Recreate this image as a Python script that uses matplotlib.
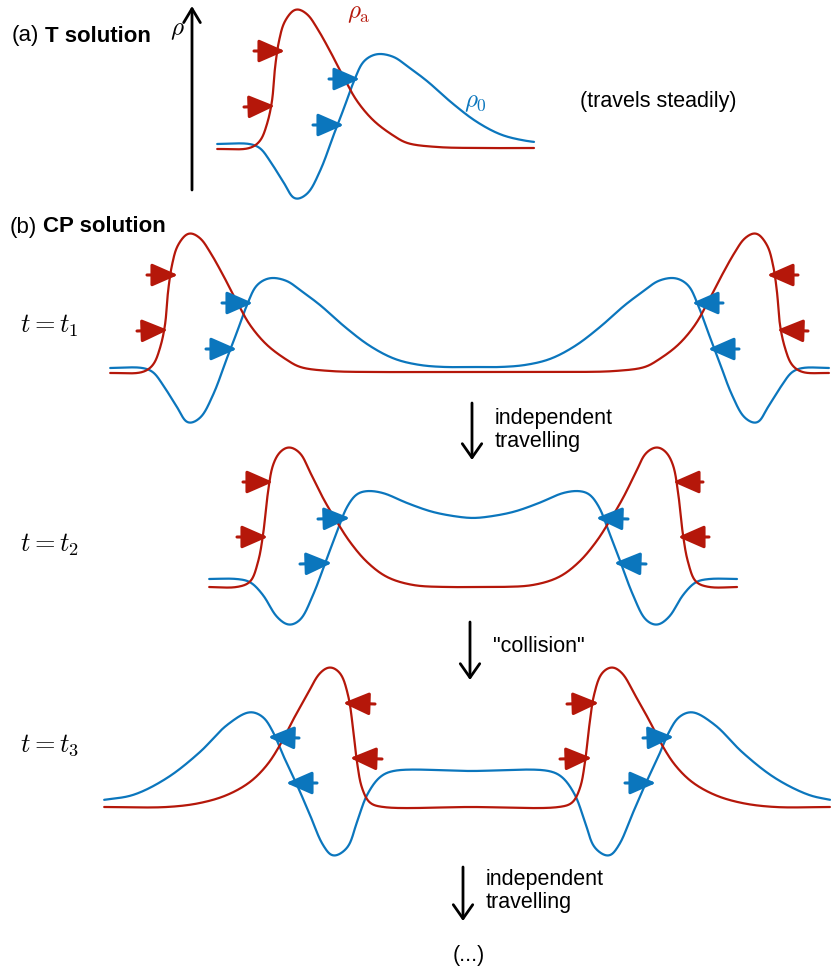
import numpy as np
import matplotlib
matplotlib.use("Agg")
import matplotlib.pyplot as plt

plt.rcParams['font.family'] = ['Liberation Sans', 'DejaVu Sans']
plt.rcParams['mathtext.fontset'] = 'cm'

RED = '#B5170A'
BLUE = '#0B76BD'

# ---- curve points (pixel units, y downwards) ----
# (a) T solution
t_red = [(216, 149), (250, 148), (260, 141), (267, 124), (272, 101), (275, 68), (279, 41),
         (285, 21), (296, 9), (307, 14), (317, 28), (330, 51), (344, 78), (357, 101),
         (374, 121), (394, 136), (407, 143), (437, 147), (480, 148), (535, 148)]
t_blue = [(216, 144), (250, 144), (260, 148), (270, 161), (284, 183), (295, 199), (307, 194),
          (320, 171), (334, 134), (344, 108), (354, 81), (364, 61), (377, 54), (394, 57),
          (407, 66), (427, 81), (452, 103), (477, 122), (502, 135), (527, 141), (535, 142)]

# (b) CP solution, t = t1
t1_red = [(109, 373), (143, 372), (153, 365), (160, 348), (165, 325), (168, 292), (172, 265),
          (178, 245), (189, 233), (200, 238), (210, 252), (223, 275), (237, 302), (250, 325),
          (267, 345), (287, 360), (300, 367), (330, 371), (380, 372), (430, 372), (472, 372),
          (515, 372), (565, 372), (615, 371), (645, 367), (658, 360), (678, 345), (695, 325),
          (708, 302), (722, 275), (735, 252), (745, 238), (756, 233), (767, 245), (773, 265),
          (777, 292), (780, 325), (785, 348), (792, 365), (802, 372), (830, 373)]
t1_blue = [(109, 368), (143, 368), (153, 372), (163, 385), (177, 407), (188, 423), (200, 418),
           (213, 395), (227, 358), (237, 332), (247, 305), (257, 285), (270, 278), (287, 281),
           (300, 290), (320, 305), (345, 327), (370, 346), (395, 359), (420, 365), (445, 367),
           (472, 367), (500, 367), (525, 365), (550, 359), (575, 346), (600, 327), (625, 305),
           (645, 290), (658, 281), (675, 278), (688, 285), (698, 305), (708, 332), (718, 358),
           (732, 395), (745, 418), (757, 423), (768, 407), (782, 385), (792, 372), (802, 368),
           (830, 368)]

# t = t2
t2_red = [(208, 587), (237, 587), (250, 582), (258, 562), (263, 535), (268, 492), (273, 465),
          (280, 452), (289, 447), (300, 453), (310, 472), (323, 498), (337, 522), (350, 542),
          (367, 562), (387, 577), (413, 585), (447, 587), (473, 587), (499, 587), (533, 585),
          (559, 577), (579, 562), (596, 542), (609, 522), (623, 498), (636, 472), (646, 453),
          (657, 447), (666, 452), (673, 465), (678, 492), (683, 535), (688, 562), (696, 582),
          (709, 587), (738, 587)]
t2_blue = [(208, 579), (237, 579), (250, 582), (263, 595), (277, 617), (289, 625), (300, 620),
           (313, 595), (327, 558), (337, 532), (347, 507), (357, 494), (367, 491), (383, 493),
           (407, 503), (433, 512), (460, 517), (473, 518), (486, 517), (513, 512), (539, 503),
           (563, 493), (579, 491), (589, 494), (599, 507), (609, 532), (619, 558), (633, 595),
           (646, 620), (657, 625), (669, 617), (683, 595), (696, 582), (709, 579), (738, 579)]

# t = t3
t3_red = [(103, 807), (167, 807), (200, 803), (227, 795), (250, 782), (267, 765), (280, 745),
          (293, 720), (307, 695), (320, 673), (330, 667), (340, 673), (348, 695), (353, 728),
          (357, 762), (362, 788), (370, 803), (383, 807), (471, 807), (559, 807), (572, 803),
          (580, 788), (585, 762), (589, 728), (594, 695), (602, 673), (612, 667), (622, 673),
          (635, 695), (649, 720), (662, 745), (675, 765), (692, 782), (715, 795), (742, 803),
          (775, 807), (831, 807)]
t3_blue = [(103, 800), (133, 795), (167, 778), (200, 752), (227, 725), (250, 712), (263, 717),
           (273, 732), (283, 755), (297, 785), (310, 815), (323, 845), (333, 856), (347, 848),
           (357, 822), (367, 795), (380, 777), (393, 771), (471, 771), (549, 771), (562, 777),
           (575, 795), (585, 822), (595, 848), (609, 856), (619, 845), (632, 815), (645, 785),
           (659, 755), (669, 732), (679, 717), (692, 712), (715, 725), (742, 752), (775, 778),
           (809, 795), (831, 800)]

# small velocity arrows: (tail, tip, colour)
arrows = [
    ((254, 51), (285, 51), RED), ((244, 107), (275, 106), RED),
    ((329, 79), (360, 79), BLUE), ((313, 125), (344, 125), BLUE),
    ((147, 275), (178, 275), RED), ((137, 331), (168, 330), RED),
    ((222, 303), (253, 303), BLUE), ((206, 349), (237, 349), BLUE),
    ((798, 275), (767, 275), RED), ((808, 331), (777, 330), RED),
    ((723, 303), (692, 303), BLUE), ((739, 349), (708, 349), BLUE),
    ((243, 482), (273, 482), RED), ((237, 537), (268, 537), RED),
    ((318, 519), (350, 518), BLUE), ((300, 564), (332, 563), BLUE),
    ((703, 482), (673, 482), RED), ((709, 537), (678, 537), RED),
    ((628, 519), (596, 518), BLUE), ((646, 564), (614, 563), BLUE),
    ((375, 704), (343, 703), RED), ((382, 759), (350, 758), RED),
    ((299, 738), (268, 737), BLUE), ((317, 783), (286, 783), BLUE),
    ((567, 704), (599, 703), RED), ((560, 759), (592, 758), RED),
    ((643, 738), (674, 737), BLUE), ((625, 783), (656, 783), BLUE),
]


def spline(pts, n=20):
    # centripetal Catmull-Rom through the read points
    P = np.asarray(pts, float)
    P = np.vstack([2 * P[0] - P[1], P, 2 * P[-1] - P[-2]])
    out = []
    for i in range(1, len(P) - 2):
        p0, p1, p2, p3 = P[i - 1], P[i], P[i + 1], P[i + 2]
        t0 = 0.0
        t1 = t0 + np.linalg.norm(p1 - p0) ** 0.5
        t2 = t1 + np.linalg.norm(p2 - p1) ** 0.5
        t3 = t2 + np.linalg.norm(p3 - p2) ** 0.5
        t = np.linspace(t1, t2, n)[:, None]
        a1 = (t1 - t) / (t1 - t0) * p0 + (t - t0) / (t1 - t0) * p1
        a2 = (t2 - t) / (t2 - t1) * p1 + (t - t1) / (t2 - t1) * p2
        a3 = (t3 - t) / (t3 - t2) * p2 + (t - t2) / (t3 - t2) * p3
        b1 = (t2 - t) / (t2 - t0) * a1 + (t - t0) / (t2 - t0) * a2
        b2 = (t3 - t) / (t3 - t1) * a2 + (t - t1) / (t3 - t1) * a3
        c = (t2 - t) / (t2 - t1) * b1 + (t - t1) / (t2 - t1) * b2
        out.append(c if i == 1 else c[1:])
    return np.vstack(out)


def smooth(pts, sigma=3.0, step=0.5):
    # spline, resample along the length, then soften remaining kinks
    P = spline(pts)
    seg = np.hypot(*np.diff(P, axis=0).T)
    s = np.concatenate([[0], np.cumsum(seg)])
    u = np.arange(0, s[-1] + step, step)
    x = np.interp(u, s, P[:, 0])
    y = np.interp(u, s, P[:, 1])
    k = int(4 * sigma / step)
    g = np.exp(-0.5 * (np.arange(-k, k + 1) * step / sigma) ** 2)
    g /= g.sum()
    xs = np.convolve(np.pad(x, k, mode='edge'), g, mode='valid')
    ys = np.convolve(np.pad(y, k, mode='edge'), g, mode='valid')
    return xs, ys


fig = plt.figure(figsize=(8.31, 9.71), dpi=100)
ax = fig.add_axes([0, 0, 1, 1])
ax.set_xlim(0, 831)
ax.set_ylim(971, 0)
ax.axis('off')

for curve, col in [(t_blue, BLUE), (t_red, RED), (t1_blue, BLUE), (t1_red, RED),
                   (t2_blue, BLUE), (t2_red, RED), (t3_blue, BLUE), (t3_red, RED)]:
    xs, ys = smooth(curve)
    ax.plot(xs, ys, color=col, lw=1.6, solid_capstyle='round')

for tail, tip, col in arrows:
    ax.annotate('', xy=tip, xytext=tail,
                arrowprops=dict(arrowstyle='-|>,head_length=0.8,head_width=0.35',
                                color=col, lw=2.2, mutation_scale=20,
                                shrinkA=0, shrinkB=0))

# rho axis
ax.annotate('', xy=(192, 6), xytext=(192, 190),
            arrowprops=dict(arrowstyle='->,head_length=0.5,head_width=0.3',
                            color='black', lw=2, mutation_scale=20, shrinkA=0, shrinkB=0))
ax.text(177, 30, r'$\rho$', fontsize=18, ha='center', va='center')
ax.text(359, 13, r'$\rho_\mathrm{a}$', fontsize=18, color=RED, ha='center', va='center')
ax.text(475, 102, r'$\rho_0$', fontsize=18, color=BLUE, ha='center', va='center')

ax.text(12, 36, '(a)', fontsize=16, ha='left', va='center')
ax.text(45, 36, 'T solution', fontsize=16, fontweight='bold', ha='left', va='center')
ax.text(580, 102, '(travels steadily)', fontsize=15.5, ha='left', va='center')
ax.text(10, 227, '(b)', fontsize=16, ha='left', va='center')
ax.text(43, 227, 'CP solution', fontsize=16, fontweight='bold', ha='left', va='center')

for y, lab in [(326, r'$t = t_1$'), (545, r'$t = t_2$'), (745, r'$t = t_3$')]:
    ax.text(20, y, lab, fontsize=19, ha='left', va='center')

# time steps
steps = [(472, 403, 460, 'independent\ntravelling', 430),
         (470, 622, 680, '"collision"', 646),
         (463, 867, 921, 'independent\ntravelling', 891)]
for x, y0, y1, lab, ty in steps:
    ax.annotate('', xy=(x, y1), xytext=(x, y0),
                arrowprops=dict(arrowstyle='->,head_length=0.5,head_width=0.35',
                                color='black', lw=2, mutation_scale=20, shrinkA=0, shrinkB=0))
    ax.text(x + 23, ty, lab, fontsize=15.5, ha='left', va='center', linespacing=1.1)

ax.text(469, 955, '(...)', fontsize=15.5, ha='center', va='center')

fig.savefig('out.png', dpi=100)
